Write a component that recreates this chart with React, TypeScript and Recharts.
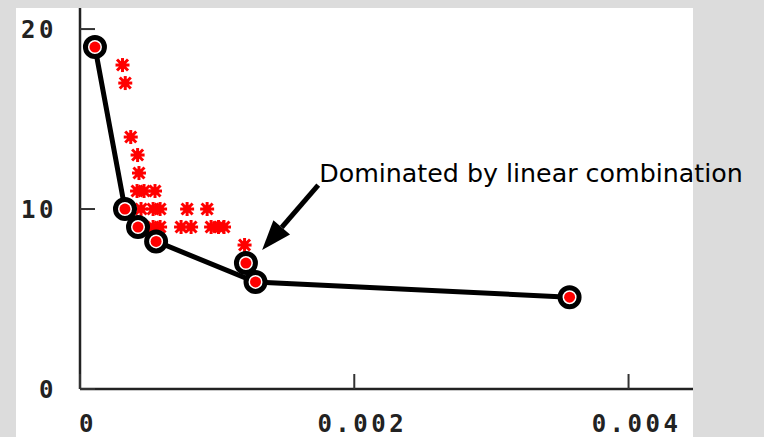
import { ReferenceLine, Scatter, ScatterChart, XAxis, YAxis } from 'recharts';

// Pareto front (connected, circled)
const frontX = [0.000109, 0.000328, 0.000423, 0.000555, 0.00128, 0.00357];
const frontY = [19, 10, 9, 8.2, 5.95, 5.1];

// point that lies above the front
const dominatedX = [0.00121];
const dominatedY = [7];

// other candidates (red asterisks)
const candX = [
  0.00031, 0.00033, 0.00037, 0.00042, 0.00043,
  0.000416, 0.000467, 0.000547,
  0.000445, 0.000533, 0.000584, 0.000781, 0.000927,
  0.000533, 0.000584, 0.000737, 0.00081, 0.000956, 0.00101, 0.00105,
  0.0012,
];
const candY = [
  18, 17, 14, 13, 12,
  11, 11, 11,
  10, 10, 10, 10, 10,
  9, 9, 9, 9, 9, 9, 9,
  8,
];

const xTicks = [0, 0.002, 0.004];
const yTicks = [0, 10, 20];

const note = 'Dominated by linear combination';
// annotation arrow: tail -> tip, in data units
const arrowFrom = { x: 0.001737, y: 11.33 };
const arrowTo = { x: 0.001328, y: 7.72 };

const zip = (xs: number[], ys: number[]) => xs.map((x, i) => ({ x, y: ys[i] }));
const front = zip(frontX, frontY);
const dominated = zip(dominatedX, dominatedY);
const candidates = zip(candX, candY);

const tickFont = {
  fontFamily: '"DejaVu Sans Mono", monospace',
  fontSize: 24,
  fontWeight: 'bold',
  letterSpacing: 3.5,
  fill: '#222',
};

const Ring = (props: any) => {
  const { cx, cy } = props;
  return (
    <g>
      <circle cx={cx} cy={cy} r={9.5} fill="#fff" stroke="#000" strokeWidth={5} />
      <circle cx={cx} cy={cy} r={5.5} fill="#f00" />
    </g>
  );
};

const Star = (props: any) => {
  const { cx, cy } = props;
  const d = 7;
  const e = 5.5;
  return (
    <g stroke="#f00" strokeWidth={3}>
      <circle cx={cx} cy={cy} r={4} fill="#f00" stroke="none" />
      <line x1={cx - d} y1={cy} x2={cx + d} y2={cy} />
      <line x1={cx} y1={cy - d} x2={cx} y2={cy + d} />
      <line x1={cx - e} y1={cy - e} x2={cx + e} y2={cy + e} />
      <line x1={cx - e} y1={cy + e} x2={cx + e} y2={cy - e} />
    </g>
  );
};

const YTick = (props: any) => {
  const { x, y, payload } = props;
  return (
    <g>
      <line x1={x + 23} y1={y} x2={x + 38} y2={y} stroke="#333" strokeWidth={2} />
      <text x={x} y={y + 1} textAnchor="end" dominantBaseline="central" {...tickFont}>
        {payload.value}
      </text>
    </g>
  );
};

const XTick = (props: any) => {
  const { x, y, payload } = props;
  return (
    <g>
      <line x1={x} y1={y} x2={x} y2={y - 15} stroke="#333" strokeWidth={2} />
      <text x={x + 8} y={y + 43} textAnchor="middle" {...tickFont}>
        {payload.value}
      </text>
    </g>
  );
};

const Arrow = (props: any) => {
  const { x1, y1, x2, y2 } = props;
  if (x1 == null) return null;
  const dx = x2 - x1;
  const dy = y2 - y1;
  const len = Math.hypot(dx, dy);
  const ux = dx / len;
  const uy = dy / len;
  const bx = x2 - ux * 30;
  const by = y2 - uy * 30;
  const hw = 11;
  return (
    <g>
      <line x1={x1} y1={y1} x2={bx} y2={by} stroke="#000" strokeWidth={5} />
      <polygon
        points={`${x2},${y2} ${bx - uy * hw},${by + ux * hw} ${bx + uy * hw},${by - ux * hw}`}
        fill="#000"
      />
      <text
        x={x1 + 1}
        y={y1 - 3}
        fontFamily='"DejaVu Sans", sans-serif'
        fontSize={25.3}
        fill="#000"
      >
        {note}
      </text>
    </g>
  );
};

export default function App() {
  return (
    <div
      style={{
        position: 'fixed',
        left: 0,
        top: 0,
        width: 764,
        height: 437,
        background: '#dcdcdc',
        overflow: 'hidden',
      }}
    >
      <div
        style={{ position: 'absolute', left: 16, top: 8, width: 677, height: 429, background: '#fff' }}
      />
      <div style={{ position: 'absolute', left: 16, top: 8 }}>
        <ScatterChart
          width={748}
          height={429}
          margin={{ top: 0, right: 71, bottom: 0, left: 0 }}
          style={{ overflow: 'visible' }}
        >
          <XAxis
            type="number"
            dataKey="x"
            domain={[0, 0.00447]}
            ticks={xTicks}
            allowDataOverflow
            height={48}
            tickSize={0}
            tickMargin={0}
            tickLine={false}
            axisLine={{ stroke: '#222', strokeWidth: 2.5 }}
            tick={<XTick />}
          />
          <YAxis
            type="number"
            dataKey="y"
            domain={[0, 21.17]}
            ticks={yTicks}
            allowDataOverflow
            width={64}
            tickSize={0}
            tickMargin={23}
            tickLine={false}
            axisLine={{ stroke: '#222', strokeWidth: 2.5 }}
            tick={<YTick />}
          />
          <Scatter data={candidates} shape={<Star />} isAnimationActive={false} />
          <Scatter
            data={front}
            line={{ stroke: '#000', strokeWidth: 5 }}
            lineType="joint"
            shape={<Ring />}
            isAnimationActive={false}
          />
          <Scatter data={dominated} shape={<Ring />} isAnimationActive={false} />
          <ReferenceLine
            segment={[arrowFrom, arrowTo]}
            ifOverflow="visible"
            shape={<Arrow />}
          />
        </ScatterChart>
      </div>
    </div>
  );
}
